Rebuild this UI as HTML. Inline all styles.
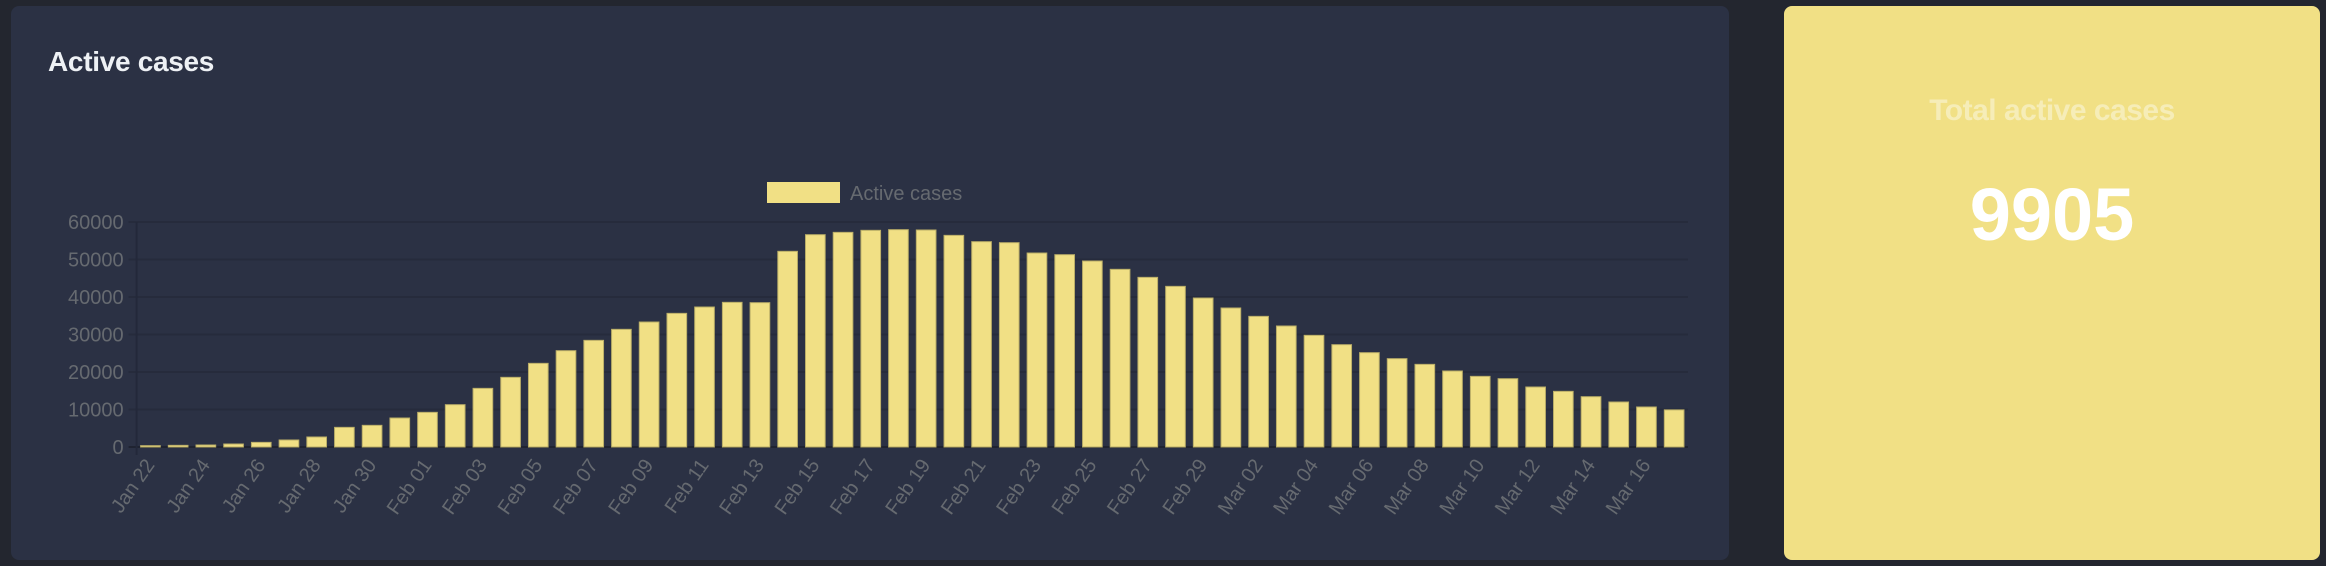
<!DOCTYPE html>
<html><head><meta charset="utf-8"><style>
html,body{margin:0;padding:0;width:2326px;height:566px;background:#23262f;overflow:hidden;font-family:"Liberation Sans",sans-serif}
#card{position:absolute;left:11px;top:6px;width:1718px;height:554px;background:#2b3144;border-radius:8px}
#title{position:absolute;left:37px;top:40px;font-size:28px;font-weight:bold;color:#eef1f5;letter-spacing:-0.3px}
#tot{position:absolute;left:1784px;top:6px;width:536px;height:554px;background:#f1e085;border-radius:8px;text-align:center}
#tl{position:absolute;left:0;right:0;top:88px;font-size:30px;font-weight:bold;color:#f6edb8;letter-spacing:-0.5px}
#tv{position:absolute;left:0;right:0;top:166px;font-size:74px;font-weight:bold;color:#fff}
svg{position:absolute;left:0;top:0}
</style></head><body>
<div id="card"><div id="title">Active cases</div></div>
<div id="tot">
<div id="tl">Total active cases</div>
<div id="tv">9905</div></div>
<svg id="chart" width="2326" height="566"></svg>
<script>
const categories=["Jan 22","Jan 23","Jan 24","Jan 25","Jan 26","Jan 27","Jan 28","Jan 29","Jan 30","Jan 31","Feb 01","Feb 02","Feb 03","Feb 04","Feb 05","Feb 06","Feb 07","Feb 08","Feb 09","Feb 10","Feb 11","Feb 12","Feb 13","Feb 14","Feb 15","Feb 16","Feb 17","Feb 18","Feb 19","Feb 20","Feb 21","Feb 22","Feb 23","Feb 24","Feb 25","Feb 26","Feb 27","Feb 28","Feb 29","Mar 01","Mar 02","Mar 03","Mar 04","Mar 05","Mar 06","Mar 07","Mar 08","Mar 09","Mar 10","Mar 11","Mar 12","Mar 13","Mar 14","Mar 15","Mar 16","Mar 17"];
const activeCases=[360,440,530,800,1240,1870,2670,5240,5780,7730,9240,11290,15640,18580,22310,25690,28440,31380,33330,35640,37330,38580,38490,52180,56620,57240,57780,57960,57870,56440,54760,54490,51730,51290,49600,47380,45240,42840,39730,37070,34840,32270,29780,27290,25160,23560,22040,20270,18840,18220,16000,14840,13420,12000,10670,9905];
const yTicks=[0,10000,20000,30000,40000,50000,60000];
const NS="http://www.w3.org/2000/svg";
const svg=document.getElementById('chart');
const X0=136.6,X1=1688,Y0=447,Y1=222,YMAX=60000;
const band=(X1-X0)/categories.length;
const xs=i=>X0+band*(i+0.5);
const ys=v=>Y0-(v/YMAX)*(Y0-Y1);
function mk(t,a){const e=document.createElementNS(NS,t);for(const k in a)e.setAttribute(k,a[k]);svg.appendChild(e);return e;}
yTicks.forEach(t=>{
 const g=mk('line',{x1:X0-8,x2:X1,y1:ys(t),y2:ys(t),stroke:t===0?'#1f2331':'#262b3c','stroke-width':2});
 
 
 const l=mk('text',{x:X0-13,y:ys(t)+7,'text-anchor':'end','font-size':20,fill:'#666a70','font-family':'Liberation Sans, sans-serif'});
 l.textContent=t;
 
 
});
const ax=mk('line',{x1:X0,x2:X0,y1:Y1,y2:Y0+8,stroke:'#23283a','stroke-width':2});


const bw=band*0.71;
activeCases.forEach((v,i)=>{
 const r=mk('rect',{x:xs(i)-bw/2,y:ys(v),width:bw,height:Y0-ys(v),fill:'#f1e085',stroke:'#b9ad67','stroke-width':1});
 
 
});
categories.forEach((c,i)=>{
 if(i%2)return;
 const x=xs(i)+5,y=Y0+18;
 const t=mk('text',{x:x,y:y,'text-anchor':'end','font-size':20,fill:'#666a70','font-family':'Liberation Sans, sans-serif',transform:`rotate(-55 ${x} ${y})`});
 t.textContent=c;
 
 
});
const lb=mk('rect',{x:767,y:182,width:73,height:21,fill:'#f1e085'});


const lt=mk('text',{x:850,y:200,'font-size':20,fill:'#666a70','font-family':'Liberation Sans, sans-serif'});
lt.textContent='Active cases';


</script>
</body></html>
